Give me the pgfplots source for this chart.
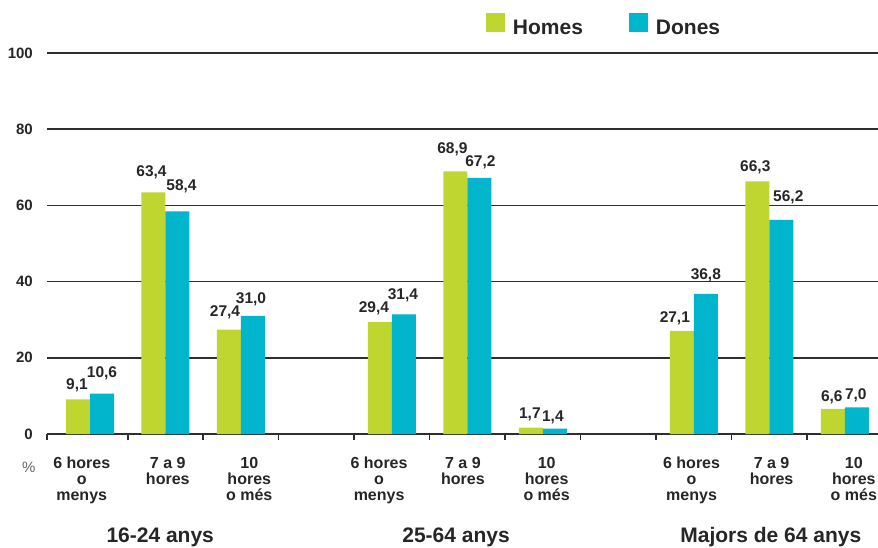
\documentclass[border=0pt]{standalone}
\usepackage{pgfplots}
\usepackage{pgfplotstable}
\pgfplotsset{compat=1.18}
\usepackage{fontspec}
\setmainfont{Liberation Sans}
\definecolor{hgreen}{HTML}{BED62F}
\definecolor{dcyan}{HTML}{00B5CC}
\definecolor{txt}{HTML}{262626}
\definecolor{gridc}{HTML}{2E2E2E}
% x = slot, y = value, dx/dy = label offsets (pt)
\pgfplotstableread{
x  y     dx  dy
0  9.1   -1  10
1  63.4  -2  16
2  27.4  -4  13
4  29.4  -6  9
5  68.9  -3  18
6  1.7   -1  9
8  27.1  -7  8
9  66.3  -2  10
10 6.6   -1  7
}\homes
\pgfplotstableread{
x  y     dx  dy
0  10.6  0   16
1  58.4  4   21
2  31.0  -2  12
4  31.4  -1  15
5  67.2  1   11
6  1.4   -2  7
8  36.8  0   14
9  56.2  7   18
10 7.0   -1  8
}\dones
\begin{document}
\begin{tikzpicture}
\begin{axis}[
  scale only axis, width=831pt, height=381pt,
  xmin=-0.57, xmax=10.44, ymin=0, ymax=100,
  ybar=0pt, bar width=24pt,
  clip=false,
  axis x line*=bottom, axis y line*=left,
  y axis line style={draw=none},
  x axis line style={gridc, line width=1.5pt},
  ymajorgrids, grid style={gridc, line width=1.5pt},
  major tick length=0pt,
  tick align=outside,
  ytick={0,20,...,100},
  ytick style={draw=none},
  /pgf/number format/assume math mode=true,
  yticklabel style={font=\fontsize{15}{15}\selectfont\bfseries, text=txt, anchor=east, inner sep=0pt, xshift=-14pt},
  xtick={-0.11,1.03,2.11,3.83,4.94,6.05,7.97,9.03,10.12},
  xticklabels={{6 hores\\o\\menys},{7 a 9\\hores},{10\\hores\\o més},
               {6 hores\\o\\menys},{7 a 9\\hores},{10\\hores\\o més},
               {6 hores\\o\\menys},{7 a 9\\hores},{10\\hores\\o més}},
  xticklabel style={font=\fontsize{16}{16}\selectfont\bfseries, text=txt, align=center, anchor=north, inner sep=0pt, yshift=-23pt},
  major x tick style={draw=none},
  minor xtick={-0.57,0.5,1.5,...,9.5},
  minor tick length=6pt,
  minor x tick style={gridc, line width=1.5pt},
  nodes near coords={\pgfmathprintnumber[fixed,fixed zerofill,precision=1,use comma,assume math mode=true]{\pgfplotspointmeta}},
  visualization depends on={\thisrow{dx} \as \ldx},
  visualization depends on={\thisrow{dy} \as \ldy},
  every node near coord/.append style={font=\fontsize{15.5}{15.5}\selectfont\bfseries, text=txt, anchor=base, inner sep=0pt, xshift=\ldx pt, yshift=\ldy pt},
  legend style={at={(0.528,1)}, anchor=north west, yshift=40pt, draw=none, fill=none, inner sep=0pt,
    font=\fontsize{21}{21}\selectfont\bfseries, text=txt,
    /tikz/every odd column/.append style={column sep=6pt},
    /tikz/every even column/.append style={column sep=44pt}},
  legend columns=2,
  legend image code/.code={\fill[#1] (0pt,-4pt) rectangle (19pt,15pt);},
]
\addplot[fill=hgreen, draw=none] table[x=x, y=y] {\homes};
\addplot[fill=dcyan, draw=none] table[x=x, y=y] {\dones};
\legend{Homes, Dones}
\coordinate (sw) at (rel axis cs:0,0);
\coordinate (ne) at (rel axis cs:1,1);
\node[font=\fontsize{15}{15}\selectfont, text=black!60, anchor=center] at (axis cs:-0.81,-8.66) {\%};
\node[font=\fontsize{21}{21}\selectfont\bfseries, text=txt, anchor=base] at (axis cs:0.93,-28.6) {16-24 anys};
\node[font=\fontsize{21}{21}\selectfont\bfseries, text=txt, anchor=base] at (axis cs:4.85,-28.6) {25-64 anys};
\node[font=\fontsize{21}{21}\selectfont\bfseries, text=txt, anchor=base] at (axis cs:9.02,-28.6) {Majors de 64 anys};
\end{axis}
\pgfresetboundingbox
\path ([xshift=-47pt,yshift=-113pt]sw) rectangle ([yshift=53pt]ne);
\end{tikzpicture}
\end{document}
